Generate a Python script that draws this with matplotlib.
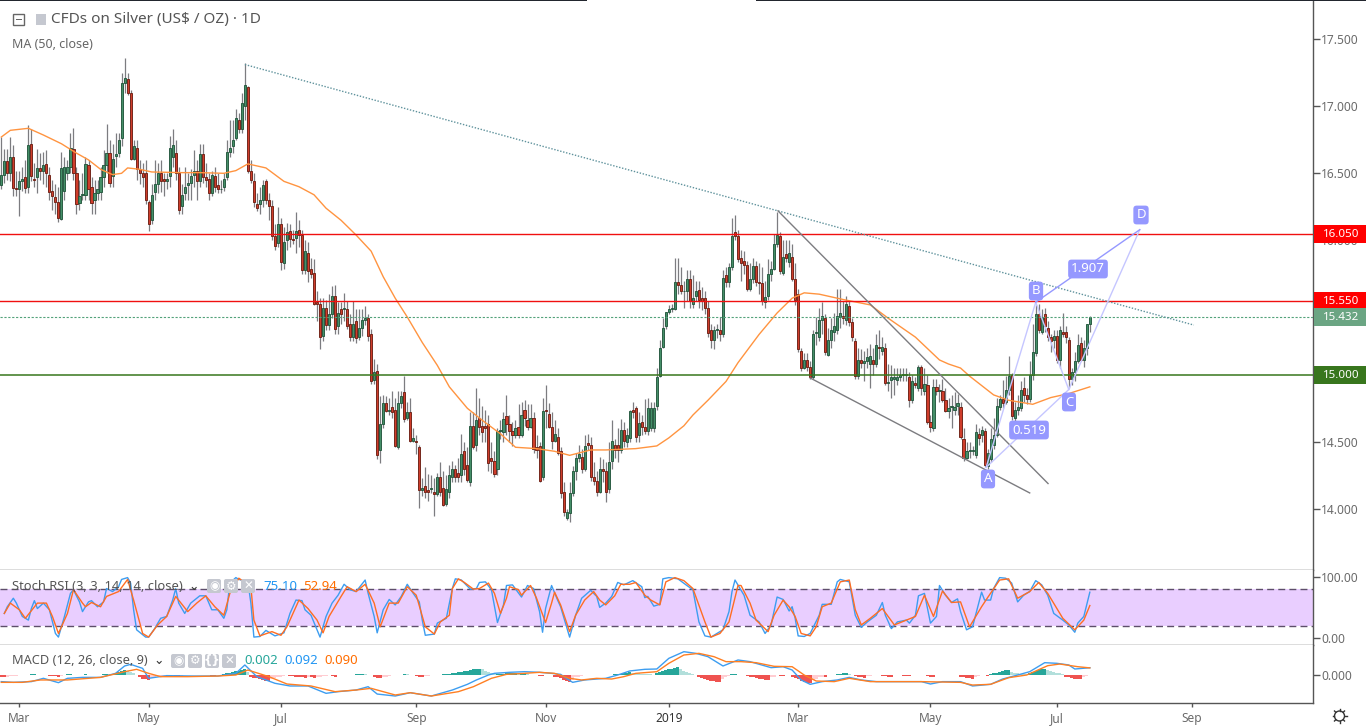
import matplotlib
matplotlib.use("Agg")
import matplotlib.pyplot as plt
from matplotlib.patches import FancyBboxPatch, Rectangle, Circle
from matplotlib.transforms import blended_transform_factory, Affine2D

plt.rcParams['font.family'] = ['Noto Sans', 'DejaVu Sans']

# ---------- data ----------
opens = [16.41,16.49,16.59,16.50,16.62,16.39,16.38,16.44,16.47,16.40,
16.72,16.46,16.47,16.54,16.52,16.57,16.49,16.37,16.32,16.29,
16.16,16.37,16.50,16.55,16.68,16.50,16.28,16.34,16.34,16.56,
16.40,16.30,16.35,16.36,16.47,16.56,16.65,16.48,16.63,16.65,
16.76,17.17,17.20,17.10,16.61,16.69,16.53,16.50,16.50,16.29,
16.15,16.36,16.42,16.50,16.46,16.44,16.48,16.62,16.65,16.50,
16.26,16.35,16.41,16.43,16.49,16.52,16.44,16.64,16.47,16.46,
16.35,16.48,16.41,16.38,16.40,16.47,16.66,16.70,16.76,16.90,
16.83,17.00,17.14,16.52,16.44,16.27,16.27,16.30,16.44,16.30,
16.26,16.03,15.98,16.12,15.83,16.00,16.07,16.01,16.02,16.08,
16.04,15.78,15.91,15.79,15.76,15.54,15.53,15.29,15.50,15.37,
15.45,15.59,15.36,15.49,15.49,15.49,15.38,15.28,15.40,15.28,
15.35,15.41,15.42,15.30,14.96,15.03,14.44,14.63,14.79,14.73,
14.76,14.74,14.46,14.79,14.87,14.68,14.72,14.51,14.51,14.46,
14.14,14.17,14.14,14.15,14.13,14.11,14.24,14.16,14.04,14.13,
14.24,14.30,14.27,14.25,14.43,14.33,14.20,14.62,14.48,14.68,
14.62,14.62,14.63,14.38,14.36,14.30,14.58,14.57,14.69,14.63,
14.58,14.55,14.61,14.55,14.74,14.66,14.61,14.68,14.46,14.47,
14.24,14.74,14.71,14.61,14.51,14.54,14.43,14.13,13.93,13.97,
14.12,14.28,14.38,14.39,14.30,14.49,14.48,14.24,14.21,14.13,
14.30,14.28,14.15,14.36,14.48,14.48,14.44,14.59,14.50,14.53,
14.74,14.75,14.55,14.65,14.61,14.58,14.60,14.60,14.77,14.99,
15.21,15.36,15.47,15.49,15.49,15.69,15.67,15.62,15.62,15.71,
15.53,15.59,15.63,15.57,15.57,15.50,15.33,15.26,15.33,15.33,
15.30,15.74,15.69,15.80,16.06,16.03,15.87,15.85,15.82,15.64,
15.71,15.81,15.69,15.68,15.54,15.59,15.75,15.79,15.97,16.03,
15.76,15.90,15.84,15.88,15.71,15.60,15.18,15.05,15.11,15.06,
14.98,15.31,15.28,15.41,15.42,15.15,15.26,15.32,15.33,15.43,
15.44,15.41,15.51,15.39,15.25,14.99,15.11,15.09,15.10,15.08,
15.11,15.08,15.21,15.18,15.20,14.94,14.96,14.97,14.96,14.98,
15.00,15.00,14.98,14.81,14.94,14.90,15.06,14.88,14.92,14.65,
14.60,14.91,14.88,14.88,14.81,14.73,14.76,14.74,14.77,14.76,
14.52,14.38,14.43,14.43,14.40,14.56,14.55,14.58,14.32,14.37,
14.48,14.55,14.76,14.82,14.80,14.89,15.00,14.68,14.74,14.75,
14.90,14.85,14.82,15.00,15.16,15.45,15.32,15.45,15.35,15.28,
15.26,15.29,15.11,15.32,15.32,15.26,14.97,15.02,15.10,15.24,
15.11,15.20,15.38]

closes = [16.49,16.59,16.50,16.62,16.39,16.38,16.44,16.46,16.39,16.71,
16.48,16.45,16.54,16.52,16.56,16.50,16.36,16.33,16.29,16.17,
16.54,16.55,16.55,16.69,16.50,16.27,16.33,16.34,16.57,16.38,
16.28,16.35,16.38,16.47,16.56,16.65,16.43,16.61,16.64,16.75,
17.17,17.21,17.10,16.61,16.70,16.53,16.50,16.47,16.30,16.12,
16.34,16.42,16.50,16.44,16.44,16.46,16.69,16.71,16.50,16.23,
16.34,16.40,16.43,16.48,16.52,16.44,16.64,16.47,16.45,16.35,
16.49,16.40,16.38,16.38,16.46,16.66,16.69,16.75,16.91,16.83,
17.02,17.155,16.52,16.45,16.29,16.24,16.30,16.41,16.30,16.26,
16.03,15.96,16.12,15.84,15.99,16.06,16.01,16.00,16.07,16.04,
15.78,15.92,15.77,15.75,15.53,15.53,15.28,15.50,15.37,15.45,
15.59,15.34,15.46,15.45,15.49,15.36,15.28,15.38,15.27,15.35,
15.41,15.42,15.29,14.95,15.02,14.40,14.63,14.79,14.73,14.74,
14.72,14.47,14.79,14.84,14.67,14.72,14.51,14.53,14.50,14.14,
14.16,14.13,14.13,14.16,14.11,14.24,14.13,14.03,14.15,14.25,
14.30,14.24,14.24,14.41,14.30,14.22,14.62,14.46,14.66,14.61,
14.57,14.60,14.34,14.36,14.26,14.58,14.58,14.67,14.63,14.58,
14.55,14.60,14.55,14.70,14.68,14.61,14.68,14.45,14.44,14.21,
14.73,14.73,14.61,14.51,14.56,14.42,14.12,13.98,13.98,14.12,
14.28,14.38,14.41,14.30,14.47,14.48,14.24,14.21,14.13,14.30,
14.28,14.13,14.35,14.51,14.44,14.44,14.59,14.51,14.55,14.73,
14.72,14.54,14.64,14.61,14.58,14.75,14.75,14.75,14.98,15.20,
15.35,15.47,15.49,15.50,15.69,15.67,15.62,15.62,15.71,15.55,
15.57,15.62,15.56,15.55,15.50,15.31,15.26,15.33,15.34,15.30,
15.72,15.69,15.80,16.03,16.03,15.86,15.83,15.82,15.64,15.71,
15.81,15.69,15.68,15.55,15.58,15.75,15.79,15.97,16.04,15.77,
15.88,15.87,15.91,15.71,15.56,15.19,15.05,15.11,15.06,14.98,
15.30,15.31,15.41,15.44,15.17,15.26,15.33,15.36,15.44,15.46,
15.42,15.53,15.39,15.28,14.99,15.11,15.09,15.10,15.13,15.14,
15.08,15.22,15.20,15.21,14.94,14.94,14.98,14.98,14.98,15.00,
15.00,15.00,14.81,14.95,14.92,15.06,14.90,14.93,14.65,14.61,
14.91,14.88,14.89,14.81,14.73,14.75,14.77,14.76,14.79,14.54,
14.38,14.43,14.44,14.44,14.57,14.53,14.59,14.33,14.42,14.52,
14.55,14.77,14.82,14.79,14.89,14.99,14.69,14.74,14.76,14.89,
14.85,14.82,15.00,15.17,15.45,15.33,15.43,15.36,15.28,15.25,
15.29,15.11,15.33,15.30,15.28,14.97,15.02,15.10,15.22,15.11,
15.20,15.38,15.432]

highs = [16.77,16.68,16.68,16.77,16.71,16.52,16.52,16.55,16.60,16.86,
16.83,16.58,16.68,16.65,16.66,16.67,16.55,16.45,16.42,16.40,
16.66,16.62,16.60,16.80,16.84,16.55,16.45,16.50,16.62,16.60,
16.47,16.45,16.45,16.55,16.67,16.87,16.75,16.72,16.80,16.80,
17.25,17.36,17.25,17.12,16.75,16.75,16.60,16.58,16.60,16.30,
16.42,16.60,16.58,16.60,16.50,16.50,16.78,16.83,16.75,16.55,
16.42,16.55,16.50,16.53,16.67,16.60,16.72,16.72,16.58,16.50,
16.52,16.55,16.50,16.45,16.50,16.75,16.90,16.90,16.98,16.95,
17.10,17.32,17.15,16.60,16.50,16.35,16.40,16.45,16.46,16.35,
16.30,16.12,16.25,16.17,16.10,16.13,16.12,16.08,16.21,16.15,
16.08,16.00,15.99,15.87,15.86,15.62,15.57,15.57,15.56,15.60,
15.66,15.67,15.54,15.54,15.61,15.55,15.45,15.55,15.49,15.49,
15.49,15.51,15.45,15.34,15.12,15.08,14.84,14.85,14.84,14.83,
14.88,14.83,14.88,14.88,14.99,14.80,14.83,14.60,14.55,14.48,
14.23,14.31,14.26,14.25,14.23,14.27,14.35,14.28,14.25,14.33,
14.36,14.33,14.38,14.56,14.50,14.46,14.72,14.72,14.90,14.83,
14.77,14.74,14.70,14.50,14.43,14.60,14.66,14.72,14.85,14.70,
14.65,14.66,14.78,14.80,14.81,14.78,14.78,14.72,14.55,14.50,
14.83,14.92,14.79,14.72,14.66,14.60,14.46,14.20,14.00,14.20,
14.32,14.42,14.48,14.45,14.55,14.56,14.54,14.35,14.28,14.39,
14.37,14.35,14.50,14.66,14.52,14.60,14.67,14.65,14.60,14.74,
14.80,14.77,14.72,14.70,14.82,14.83,14.80,14.80,15.05,15.26,
15.42,15.47,15.52,15.53,15.87,15.87,15.80,15.70,15.78,15.78,
15.74,15.70,15.70,15.65,15.62,15.55,15.38,15.36,15.38,15.43,
15.78,15.80,15.83,16.17,16.19,16.08,15.93,15.92,15.85,15.83,
15.87,15.85,15.83,15.80,15.70,15.86,15.85,16.05,16.21,16.06,
16.00,16.00,16.00,15.97,15.83,15.64,15.20,15.16,15.16,15.10,
15.33,15.43,15.50,15.54,15.45,15.35,15.42,15.46,15.64,15.64,
15.55,15.59,15.55,15.42,15.27,15.20,15.19,15.18,15.20,15.23,
15.20,15.30,15.33,15.28,15.24,15.08,15.07,15.05,15.05,15.05,
15.05,15.05,15.02,15.00,14.98,15.07,15.07,15.05,15.00,14.70,
14.97,14.97,14.93,14.97,14.90,14.83,14.85,14.87,14.86,14.80,
14.60,14.50,14.50,14.47,14.63,14.60,14.62,14.60,14.45,14.60,
14.68,14.83,14.85,14.96,14.99,15.14,15.01,14.80,14.85,14.95,
14.98,14.90,15.10,15.38,15.52,15.53,15.49,15.50,15.40,15.30,
15.33,15.33,15.36,15.46,15.36,15.28,15.05,15.17,15.30,15.28,
15.26,15.38,15.44]

lows = [16.38,16.43,16.45,16.44,16.33,16.33,16.18,16.37,16.35,16.35,
16.44,16.40,16.35,16.45,16.42,16.40,16.30,16.23,16.20,16.14,
16.15,16.30,16.45,16.50,16.45,16.20,16.23,16.30,16.30,16.30,
16.20,16.20,16.30,16.30,16.40,16.50,16.40,16.40,16.55,16.62,
16.70,17.10,17.08,16.60,16.60,16.45,16.42,16.40,16.27,16.07,
16.12,16.30,16.35,16.36,16.33,16.38,16.40,16.55,16.45,16.20,
16.20,16.30,16.30,16.30,16.40,16.30,16.40,16.43,16.40,16.30,
16.33,16.36,16.35,16.35,16.37,16.45,16.62,16.65,16.75,16.80,
16.80,16.90,16.50,16.43,16.25,16.22,16.20,16.25,16.27,16.15,
16.00,15.93,15.95,15.78,15.79,15.93,15.95,15.97,15.91,15.95,
15.75,15.75,15.69,15.72,15.52,15.40,15.19,15.25,15.33,15.33,
15.42,15.30,15.30,15.38,15.40,15.34,15.25,15.25,15.24,15.26,
15.29,15.37,15.25,14.93,14.93,14.37,14.34,14.60,14.72,14.70,
14.68,14.46,14.45,14.75,14.65,14.66,14.50,14.50,14.41,14.01,
14.10,14.08,14.06,14.12,13.95,14.10,14.10,14.02,14.02,14.08,
14.20,14.20,14.20,14.20,14.25,14.20,14.17,14.45,14.43,14.55,
14.50,14.50,14.28,14.27,14.24,14.25,14.52,14.50,14.55,14.50,
14.47,14.53,14.53,14.54,14.62,14.59,14.60,14.42,14.38,14.20,
14.22,14.60,14.60,14.45,14.50,14.40,14.08,13.95,13.92,13.90,
14.10,14.22,14.35,14.27,14.28,14.44,14.21,14.18,14.10,14.12,
14.20,14.05,14.12,14.30,14.38,14.35,14.42,14.46,14.46,14.50,
14.68,14.50,14.50,14.55,14.56,14.55,14.58,14.57,14.74,14.98,
15.20,15.34,15.45,15.47,15.48,15.60,15.60,15.50,15.55,15.50,
15.50,15.55,15.50,15.48,15.45,15.28,15.20,15.19,15.27,15.25,
15.28,15.65,15.65,15.78,16.00,15.84,15.70,15.75,15.62,15.62,
15.68,15.66,15.60,15.52,15.50,15.56,15.70,15.78,15.95,15.75,
15.74,15.84,15.80,15.70,15.52,15.17,15.03,15.04,15.03,14.97,
14.97,15.22,15.25,15.30,15.15,15.14,15.20,15.25,15.30,15.35,
15.38,15.37,15.36,15.25,14.97,14.97,15.05,14.95,15.05,14.90,
15.00,15.06,15.12,15.15,14.92,14.88,14.83,14.85,14.92,14.95,
14.95,14.95,14.76,14.79,14.90,14.88,14.85,14.85,14.63,14.57,
14.58,14.85,14.80,14.80,14.72,14.68,14.60,14.70,14.70,14.52,
14.36,14.37,14.38,14.40,14.38,14.48,14.50,14.31,14.30,14.35,
14.45,14.54,14.74,14.75,14.78,14.85,14.66,14.65,14.70,14.73,
14.80,14.78,14.80,14.96,15.14,15.31,15.30,15.32,15.25,15.17,
15.20,15.09,15.05,15.28,15.24,14.90,14.92,14.95,15.09,15.10,
15.06,15.15,15.32]

ma_idx = [0,3,9,14,20,25,29,33,37,40,42,46,50,60,66,74,78,82,88,94,99,104,108,113,118,123,127,131,135,140,145,149,
155,160,166,171,178,184,189,196,201,211,218,222,227,230,235,241,245,252,258,263,267,272,280,289,295,304,312,315,
319,322,326,330,335,343,349,355,362]
ma_vals = [16.77,16.82,16.835,16.785,16.72,16.65,16.6,16.53,16.49,16.5,16.54,16.53,16.51,16.505,16.505,16.5,16.52,16.57,16.54,16.44,16.4,16.34,16.24,16.15,16.04,15.92,15.73,15.57,15.43,15.24,15.07,14.91,
14.75,14.66,14.56,14.46,14.45,14.43,14.4,14.44,14.44,14.45,14.47,14.53,14.62,14.7,14.81,14.95,15.09,15.3,15.46,15.57,15.61,15.6,15.56,15.52,15.42,15.28,15.11,15.08,
15.05,14.99,14.92,14.85,14.81,14.78,14.83,14.86,14.91]

k_idx = [1,2,4,5,7,9,10,11,12,14,16,18,19,21,23,24,26,27,29,30,32,34,35,37,39,40,42,43,44,45,48,49,51,53,55,57,58,59,61,63,64,66,68,70,72,74,75,76,78,79,82,83,84,86,88,91,94,96,98,100,101,103,105,106,108,110,112,114,116,118,121,122,124,125,127,129,131,133,135,137,139,140,141,144,145,148,
150,151,153,156,158,159,161,163,165,167,168,170,173,175,177,179,180,181,183,185,186,189,191,193,196,198,199,201,203,205,207,210,213,214,215,217,219,220,222,225,228,230,232,234,236,240,242,243,244,247,249,252,254,256,258,260,262,263,264,265,267,269,272,273,276,278,279,282,284,286,288,291,293,294,296,298,301,302,304,305,307,309,311,312,314,316,318,319,321,323,326,327,329,330,332,334,336,338,340,342,344,346,348,350,353,355,357,358,360,362]
k_vals = [40,51,65,57,35,29,48,61,48,57,46,7,1,35,73,79,59,43,59,61,51,59,81,76,84,96,99,90,46,13,1,1,15,32,35,62,81,57,40,57,61,69,69,46,46,32,46,90,99,96,92,57,1,2,12,3,8,40,62,61,46,37,13,1,35,57,70,88,79,76,95,73,35,8,46,63,54,68,88,73,59,29,4,6,24,32,
81,97,95,80,81,91,92,79,25,54,86,87,67,86,81,43,9,48,86,62,51,1,37,65,78,68,50,57,68,91,87,94,84,66,68,52,55,97,99,97,86,79,26,3,1,13,43,76,95,70,37,26,7,21,67,63,44,51,32,3,2,7,37,55,55,92,96,92,37,17,26,37,58,37,15,26,29,24,37,69,73,24,35,86,70,58,64,43,13,18,75,62,62,81,99,98,90,59,70,76,94,87,70,40,29,21,9,24,35,75]

d_idx = [1,3,6,8,12,15,17,19,22,24,27,28,30,33,35,39,42,44,47,49,52,55,58,62,65,68,71,74,76,79,83,84,86,90,93,95,99,102,105,107,109,113,115,118,121,124,126,129,132,135,138,141,144,146,
149,150,152,154,157,159,162,164,166,168,169,172,173,176,178,181,183,184,186,189,191,194,197,199,201,204,206,209,211,214,216,219,221,224,227,230,234,236,239,242,245,246,249,251,
255,257,260,262,264,266,269,271,273,276,279,282,284,286,289,293,297,301,304,307,310,313,316,319,322,326,328,332,335,338,342,345,348,353,357,360,362]
d_vals = [40,57,46,32,57,57,35,7,40,79,57,51,58,51,68,76,96,62,7,1,21,35,68,43,57,69,51,37,73,98,84,29,3,10,4,18,62,48,29,8,35,68,84,76,88,57,18,57,57,84,70,18,6,26,
37,81,97,91,80,81,90,73,40,65,84,79,70,86,65,25,57,75,54,10,37,62,76,62,54,69,88,88,91,70,62,54,92,99,94,81,26,1,7,26,86,86,57,29,
10,37,62,51,35,7,3,18,51,57,92,95,46,21,32,48,21,29,35,70,35,77,58,59,18,51,66,95,97,65,76,91,73,32,13,29,53]

macd_idx = [0,4,10,14,19,22,27,33,38,41,43,47,49,55,64,72,78,81,85,91,96,102,108,112,118,122,125,131,136,143,
150,155,158,162,164,169,174,179,183,186,190,194,198,201,205,209,214,218,222,227,231,235,240,245,249,
256,260,263,266,269,273,278,282,286,291,294,306,309,313,319,323,329,333,338,342,347,351,355,357,362]
macd_vals = [-.084,-.093,-.084,-.042,-.097,-.042,-.03,-.03,.021,.114,.135,.084,-.042,-.008,-.013,-.013,.021,.127,-.021,-.105,-.139,-.139,-.232,-.211,-.19,-.148,-.241,-.266,-.224,-.266,
-.19,-.118,-.063,0,.021,.034,.042,.034,.021,.008,-.093,-.063,-.051,-.042,0,.051,.072,.076,.211,.295,.274,.232,.114,.19,.169,
.093,.105,.063,-.063,-.118,-.084,-.063,-.03,-.063,-.084,-.084,-.084,-.114,-.084,-.084,-.139,-.118,-.051,0,.042,.156,.148,.127,.076,.092]

signal_idx = [0,7,13,22,33,41,45,49,53,62,72,78,82,89,95,103,111,118,123,131,136,143,
152,157,163,168,174,179,184,189,193,198,203,207,211,218,222,227,232,237,241,246,251,
257,263,267,271,277,282,289,297,306,319,323,329,335,341,348,352,358,362]
signal_vals = [-.093,-.093,-.063,-.063,-.03,.042,.072,.021,-.021,-.021,-.013,0,.063,-.021,-.114,-.139,-.211,-.19,-.169,-.253,-.224,-.266,
-.211,-.148,-.042,.008,.021,.034,.021,-.042,-.063,-.042,-.051,-.021,.021,.042,.148,.253,.274,.232,.169,.169,.156,
.11,.105,0,-.076,-.084,-.042,-.084,-.084,-.084,-.093,-.127,-.118,-.034,0,.118,.139,.105,.09]

hist_vals = [-.02,-.03,-.02,-.015,-.01,-.008,-.005,-.004,-.002,.006,
.008,.01,.004,.006,.005,.004,-.01,-.012,-.015,-.02,
-.01,.002,.008,.01,.006,.005,.004,.003,.008,.006,
.002,.001,.002,.004,.01,.012,.01,.015,.03,.04,
.05,.06,.05,.035,.02,.005,-.03,-.045,-.055,-.06,
-.04,-.025,-.015,-.01,-.008,-.005,-.003,-.002,-.008,-.015,
-.01,-.006,-.004,.003,.006,.003,-.002,-.003,-.006,-.005,
-.01,-.012,-.005,.004,.012,.02,.03,.04,.045,.05,
.06,.07,.04,-.02,-.035,-.04,-.05,-.06,-.07,-.08,
-.05,-.04,-.03,-.02,-.012,-.005,-.01,-.015,-.02,-.025,
-.03,-.035,-.028,-.03,-.035,-.03,-.02,-.012,-.008,-.004,
-.015,-.02,-.005,-.002,.001,.001,.002,.003,.008,.012,
.015,.01,.002,-.003,-.02,-.035,-.04,-.03,-.02,-.012,
-.006,-.002,.003,.006,.012,.008,.002,-.002,-.015,-.02,
-.025,-.012,-.008,-.003,.002,.002,.003,.008,.012,.018,
.025,.03,.035,.04,.05,.055,.06,.07,.075,.075,
.07,.05,.04,.025,.012,.014,.016,.018,.02,.02,
.02,.02,.018,.02,.022,.008,.004,.002,-.002,-.012,
-.015,-.004,-.002,-.001,-.02,-.03,-.04,-.06,-.07,-.09,
-.06,-.03,-.02,-.012,-.005,.005,.002,-.003,-.006,-.002,
-.005,-.002,.001,.002,.008,.012,.018,.025,.03,.035,
.03,.025,.02,.015,.012,.01,.008,.006,.02,.035,
.05,.06,.07,.08,.09,.095,.07,.055,.04,.025,
.012,.003,-.03,-.04,-.05,-.06,-.07,-.08,-.085,-.09,
-.05,-.03,-.012,.01,.015,.005,.003,.001,-.015,-.025,
-.03,-.04,-.045,-.055,-.06,-.065,-.03,-.02,-.005,-.01,
-.012,-.002,-.001,-.02,-.04,-.055,-.07,-.085,-.095,-.1,
-.06,-.045,-.03,-.02,-.025,-.004,-.002,-.001,.012,.018,
.022,.03,.012,.006,-.015,-.025,-.03,-.035,-.012,-.008,
-.006,-.003,-.004,-.012,-.015,-.02,-.022,-.005,-.003,-.002,
-.01,-.012,-.014,.001,.001,.001,-.001,-.002,-.012,-.02,
-.022,-.001,.001,.002,.002,.001,.002,.002,.001,-.02,
-.03,-.035,-.04,-.05,-.02,-.012,-.005,-.002,-.008,.01,
.02,.03,.04,.05,.06,.065,.04,.03,.02,.015,
.012,.01,.03,.04,.05,.06,.07,.08,.06,.05,
.04,.03,.02,.01,-.02,-.03,-.04,-.045,-.05,-.055,
-.02,-.012,-.006]

tick_idx = [6,49,93,138,181,222,265,309,351,396]
tick_labels = ['Mar','May','Jul','Sep','Nov','2019','Mar','May','Jul','Sep']
price_ticks = [14.0,14.5,15.0,15.5,16.0,16.5,17.0,17.5]
level_prices = [16.05,15.55,15.0]
last_price = 15.432
trend_idx = [81,396.6]
trend_price = [17.31,15.37]
wedge_up_idx = [258.3,348.1]
wedge_up_price = [16.22,14.19]
wedge_lo_idx = [269,342]
wedge_lo_price = [14.976,14.12]
abcd_idx = [327.5,344,355,378.6]
abcd_price = [14.31,15.54,14.89,16.08]

# ---------- layout ----------
W, H = 1366, 726
fig = plt.figure(figsize=(W/100, H/100), dpi=100, facecolor='white')
def axpx(x0, y0, x1, y1):
    return fig.add_axes([x0/W, 1-y1/H, (x1-x0)/W, (y1-y0)/H])
ax = axpx(0, 1, 1313, 569.5)
ax_s = axpx(0, 569.5, 1313, 644.5)
ax_m = axpx(0, 644.5, 1313, 702.5)
PX = 3.007
xl = (-1.3/PX, (1313-1.3)/PX)
AXC = '#555555'; TXT = '#6b6b6b'
LAB = 8.6
for a in (ax, ax_s, ax_m):
    a.set_xlim(*xl)
    a.yaxis.tick_right()
    for s in ('left', 'top'):
        a.spines[s].set_visible(False)
    for s in ('right', 'bottom'):
        a.spines[s].set_color(AXC); a.spines[s].set_linewidth(1.0)
    a.tick_params(axis='y', length=5, width=1, color=AXC, labelcolor=TXT, labelsize=LAB, pad=1)
    a.set_xticks([])
ax.set_ylim(17.5-(569.5-39)/134.3, 17.5+(39-1)/134.3)
ax_s.set_ylim((637.7-644.5)/.607, (637.7-569.5)/.607)
ax_m.set_ylim((675-702.5)/79, (675-644.5)/79)

# ---------- candles ----------
idx = list(range(len(closes)))
UP, DN = '#458f68', '#cf3d2b'
UPE, DNE = '#24573d', '#6e2014'
ax.vlines(idx, lows, highs, color='#7c7c80', lw=0.9, zorder=2)
bot = [min(o, c) for o, c in zip(opens, closes)]
hgt = [max(abs(c-o), 0.006) for o, c in zip(opens, closes)]
col = [UP if c >= o else DN for o, c in zip(opens, closes)]
edg = [UPE if c >= o else DNE for o, c in zip(opens, closes)]
ax.bar(idx, hgt, bottom=bot, width=0.7, color=col, edgecolor=edg, linewidth=0.65, zorder=3)
ax.plot(ma_idx, ma_vals, color='#ff9440', lw=1.0, zorder=4)

# ---------- levels and drawings ----------
ax.axhline(16.05, color='#f01010', lw=1.0, zorder=5)
ax.axhline(15.55, color='#f01010', lw=1.0, zorder=5)
ax.axhline(15.0, color='#38761d', lw=1.1, zorder=5)
ax.axhline(last_price, color='#53a27a', lw=0.8, ls=(0, (2, 1.5)), zorder=5)
ax.plot(trend_idx, trend_price, color='#5f929c', lw=1.0, ls=(0, (1, 1.2)), zorder=5)
ax.plot(wedge_up_idx, wedge_up_price, color='#7c7c80', lw=1.0, zorder=5)
ax.plot(wedge_lo_idx, wedge_lo_price, color='#7c7c80', lw=1.0, zorder=5)
AB = '#9598ff'
ax.plot(abcd_idx[:2], abcd_price[:2], color='#c5c6ff', lw=1.0, zorder=6)
ax.plot(abcd_idx[1:3], abcd_price[1:3], color='#c5c6ff', lw=1.0, zorder=6)
ax.plot(abcd_idx[2:4], abcd_price[2:4], color='#c5c6ff', lw=1.0, zorder=6)
ax.plot([abcd_idx[0], abcd_idx[2]], [abcd_price[0], abcd_price[2]], color='#c5c6ff', lw=1.0, zorder=6)
ax.plot([abcd_idx[1], abcd_idx[3]], [abcd_price[1], abcd_price[3]], color=AB, lw=1.0, zorder=6)

def tag(px, py, s, **kw):
    fig.text(px/W, 1-py/H, s, ha='center', va='center', color='white', fontsize=9.5, zorder=20,
             bbox=dict(boxstyle='round,pad=0.22,rounding_size=0.25', fc=AB, ec='none'), **kw)
tag(988, 479, 'A'); tag(1036, 291, 'B'); tag(1069, 402, 'C'); tag(1141, 215, 'D')
tag(1029, 430, '0.519'); tag(1088, 269, '1.907')

ax.set_yticks(price_ticks)
ax.set_yticklabels([f'{p:.3f}' for p in price_ticks])

trans = blended_transform_factory(fig.transFigure, ax.transData)
for p, c in [(16.05, '#ff0000'), (15.55, '#ff0000'), (15.0, '#38761d'), (last_price, '#6ba583')]:
    ax.add_patch(Rectangle((1313.5/W, p-0.068), (W-1313.5)/W, 0.136, transform=trans, fc=c, ec='none',
                           clip_on=False, zorder=30))
    ax.text(1323/W, p-0.002, f'{p:.3f}', transform=trans, color='white', fontsize=8.3, fontweight='bold',
            va='center', ha='left', clip_on=False, zorder=31)

# ---------- stoch RSI ----------
ax_s.axhspan(20, 80, color='#e9ceff', lw=0, zorder=1)
for v in (20, 80):
    ax_s.axhline(v, color='#5d4e6a', lw=1.0, ls=(0, (5, 3)), zorder=2)
ax_s.plot(k_idx, k_vals, color='#3d9df0', lw=1.0, zorder=3)
ax_s.plot(d_idx, d_vals, color='#ff6d22', lw=1.0, zorder=4)
ax_s.set_yticks([0, 100]); ax_s.set_yticklabels(['0.00', '100.00'])

# ---------- MACD ----------
hcol = []
prev = hist_vals[0]
for v in hist_vals:
    if v >= 0:
        hcol.append('#26a69a' if v >= prev else '#b2dfdb')
    else:
        hcol.append('#ef5350' if v <= prev else '#ffcdd2')
    prev = v
ax_m.bar(idx, hist_vals, width=1.0, color=hcol, lw=0, zorder=2)
ax_m.plot(macd_idx, macd_vals, color='#3d9df0', lw=1.0, zorder=3)
ax_m.plot(signal_idx, signal_vals, color='#ff7f22', lw=1.0, zorder=4)
ax_m.set_yticks([0]); ax_m.set_yticklabels(['0.000'])
ax_m.set_xticks(tick_idx); ax_m.set_xticklabels(tick_labels)
ax_m.tick_params(axis='x', length=3, width=1, color=AXC, labelcolor=TXT, labelsize=LAB, pad=4)
ax_m.get_xticklabels()[5].set_color('#333333')
ax_m.get_xticklabels()[5].set_fontweight('bold')

# ---------- page furniture ----------
def T(px, py, s, color=TXT, size=9.5, ha='left', **kw):
    fig.text(px/W, 1-py/H, s, color=color, fontsize=size, ha=ha, va='center', zorder=25, **kw)

def R(px0, py0, px1, py1, **kw):
    fig.add_artist(Rectangle((px0/W, 1-py1/H), (px1-px0)/W, (py1-py0)/H, transform=fig.transFigure, **kw))

px_tr = Affine2D().scale(1/W, -1/H).translate(0, 1) + fig.transFigure

R(0, 0, 587, 1, fc='#22262e', ec='none')
R(756, 0, W, 1, fc='#22262e', ec='none')
R(13, 14, 24, 25, fc='none', ec='#666666', lw=1.0)
R(15.5, 19, 21.5, 20, fc='#666666', ec='none')
R(36, 14, 46, 25, fc='#c5c8d0', ec='none')
T(51, 20, 'CFDs on Silver (US$ / OZ) · 1D', color='#555555', size=11.0)
T(12, 44.5, 'MA (50, close)', color='#666666', size=9)

T(12, 586, 'Stoch RSI (3, 3, 14, 14, close)', color='#555555', size=9.3)
T(188, 586, '⌄', color='#333333', size=9, family=['DejaVu Sans'])
T(263, 586, '75.10', color='#2196f3', size=9.5)
T(303, 586, '52.94', color='#ff6d00', size=9.5)
T(12, 661, 'MACD (12, 26, close, 9)', color='#555555', size=9.2)
T(153, 661, '⌄', color='#333333', size=9, family=['DejaVu Sans'])
T(244, 661, '0.002', color='#26a69a', size=9.5)
T(284, 661, '0.092', color='#2196f3', size=9.5)
T(324, 661, '0.090', color='#ff6d00', size=9.5)

def icon(px, py, s):
    fig.add_artist(FancyBboxPatch((px-7, py-7), 14, 14, boxstyle='round,pad=0,rounding_size=2',
                                  transform=px_tr, fc='#c5c8d0', ec='none', zorder=24))
    T(px, py, s, color='white', size=8.5, ha='center', fontweight='bold', family=['DejaVu Sans'])
for px, s in [(214, '◉'), (231, '⚙'), (248, '✕')]:
    icon(px, 586, s)
for px, s in [(178, '◉'), (195, '⚙'), (212, '{}'), (229, '✕')]:
    icon(px, 661, s)

# settings gear at lower right
fig.add_artist(Circle((1339.5, 716), 5, transform=px_tr, fc='none', ec='#333333', lw=1.0))
for dx, dy in [(-7, 0), (7, 0), (0, -7), (0, 7), (-5, -5), (5, -5), (-5, 5), (5, 5)]:
    fig.add_artist(plt.Line2D([1339.5+dx*0.75, 1339.5+dx], [716+dy*0.75, 716+dy], transform=px_tr, color='#333333', lw=1.0))

fig.savefig('out.png', dpi=100)
